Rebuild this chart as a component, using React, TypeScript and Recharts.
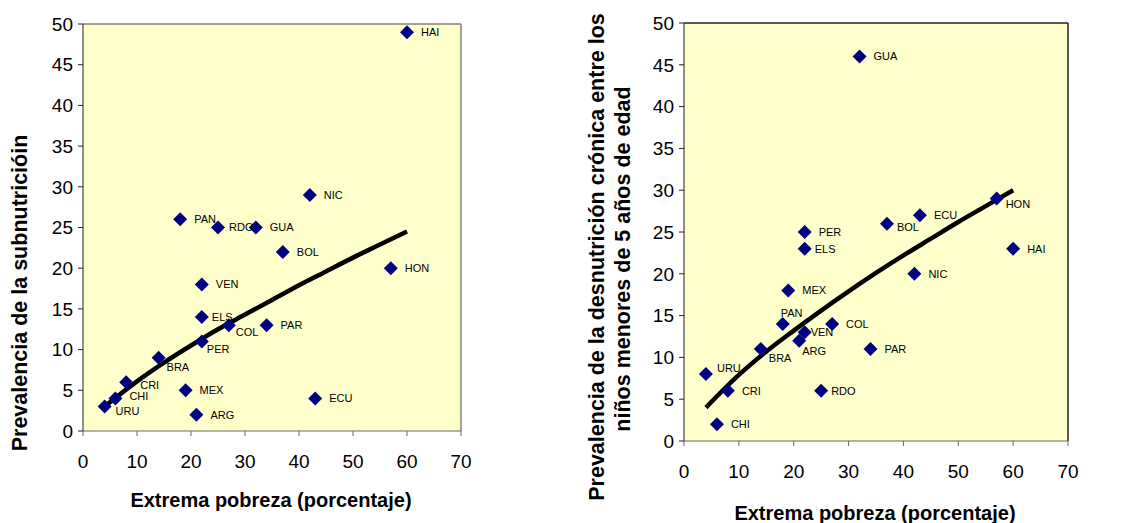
import { ScatterChart, Scatter, XAxis, YAxis, CartesianGrid, ReferenceLine, LabelList } from 'recharts'

// left chart: extreme poverty vs undernourishment
const LEFT_NAMES = ['HAI', 'NIC', 'PAN', 'RDO', 'GUA', 'BOL', 'HON', 'VEN', 'ELS', 'COL', 'PAR', 'PER', 'BRA', 'CRI', 'MEX', 'CHI', 'ECU', 'URU', 'ARG']
const LEFT_X = [60, 42, 18, 25, 32, 37, 57, 22, 22, 27, 34, 22, 14, 8, 19, 6, 43, 4, 21]
const LEFT_Y = [49, 29, 26, 25, 25, 22, 20, 18, 14, 13, 13, 11, 9, 6, 5, 4, 4, 3, 2]
const LEFT_TREND_X = [4, 10, 15, 20, 25, 30, 35, 40, 45, 50, 55, 60]
const LEFT_TREND_Y = [3, 6.1, 8.4, 10.5, 12.5, 14.3, 16.1, 17.9, 19.6, 21.3, 22.9, 24.5]

// right chart: extreme poverty vs chronic malnutrition (under 5)
const RIGHT_NAMES = ['GUA', 'HON', 'ECU', 'BOL', 'PER', 'ELS', 'HAI', 'NIC', 'MEX', 'PAN', 'COL', 'VEN', 'ARG', 'BRA', 'PAR', 'URU', 'CRI', 'RDO', 'CHI']
const RIGHT_X = [32, 57, 43, 37, 22, 22, 60, 42, 19, 18, 27, 22, 21, 14, 34, 4, 8, 25, 6]
const RIGHT_Y = [46, 29, 27, 26, 25, 23, 23, 20, 18, 14, 14, 13, 12, 11, 11, 8, 6, 6, 2]
const RIGHT_TREND_X = [4, 10, 15, 20, 25, 30, 35, 40, 45, 50, 55, 60]
const RIGHT_TREND_Y = [4, 7.9, 10.7, 13.2, 15.6, 17.9, 20.1, 22.2, 24.2, 26.2, 28.1, 30]

const X_TICKS = [0, 10, 20, 30, 40, 50, 60, 70]
const Y_TICKS = [0, 5, 10, 15, 20, 25, 30, 35, 40, 45, 50]

// label offsets from marker centre, default is to the right
const LEFT_LABEL_OFFSETS: Record<string, [number, number]> = {
  COL: [7, 7], PER: [5, 8], BRA: [8, 9], CRI: [14, 3], CHI: [14, -2], URU: [11, 5],
  RDO: [11, 0], ELS: [10, 0],
}
const RIGHT_LABEL_OFFSETS: Record<string, [number, number]> = {
  HON: [9, 6], BOL: [10, 4], ELS: [10, 0], PAN: [-2, -11], VEN: [6, 0], ARG: [3, 10],
  BRA: [8, 9], URU: [11, -6], RDO: [10, 0],
}

const FONT = 'Arial, "Liberation Sans", sans-serif'
const NAVY = '#000080'

const zip = (xs: number[], ys: number[], names?: string[]) =>
  xs.map((x, i) => ({ x, y: ys[i], name: names ? names[i] : '' }))

const Diamond = (props: any) => {
  const { cx, cy } = props
  const r = 7
  return <polygon points={`${cx},${cy - r} ${cx + r},${cy} ${cx},${cy + r} ${cx - r},${cy}`} fill={NAVY} />
}

const makeLabel = (offsets: Record<string, [number, number]>) => (props: any) => {
  const { x, y, width, height, value } = props
  const cx = x + width / 2
  const cy = y + height / 2
  const [dx, dy] = offsets[value] ?? [14, 0]
  return (
    <text x={cx + dx} y={cy + dy} dy="0.35em" fontSize={11} fill="#000" fontFamily={FONT}>
      {value}
    </text>
  )
}

const tickStyle = { fontSize: 19, fill: '#000', fontFamily: FONT }

interface PanelProps {
  points: { x: number; y: number; name: string }[]
  trend: { x: number; y: number; name: string }[]
  offsets: Record<string, [number, number]>
  margin: { top: number; right: number; bottom: number; left: number }
  yAxisWidth: number
  borderColor: string
  yTitle: React.ReactNode
  xTitle: React.ReactNode
}

function Panel({ points, trend, offsets, margin, yAxisWidth, borderColor, yTitle, xTitle }: PanelProps) {
  return (
    <ScatterChart width={560} height={523} margin={margin}>
      <CartesianGrid fill="#FFFFCC" horizontal={false} vertical={false} />
      <XAxis
        type="number"
        dataKey="x"
        domain={[0, 70]}
        ticks={X_TICKS}
        interval={0}
        tick={tickStyle}
        tickSize={5}
        tickMargin={19}
        stroke="#666"
        height={40}
        allowDataOverflow
        label={xTitle as any}
      />
      <YAxis
        type="number"
        dataKey="y"
        domain={[0, 50]}
        ticks={Y_TICKS}
        interval={0}
        tick={tickStyle}
        tickSize={5}
        tickMargin={5}
        stroke="#222"
        width={yAxisWidth}
        allowDataOverflow
        label={yTitle as any}
      />
      <ReferenceLine y={50} stroke={borderColor} strokeWidth={1.5} />
      <ReferenceLine x={70} stroke={borderColor} strokeWidth={1.5} />
      <Scatter
        data={trend}
        line={{ stroke: '#000', strokeWidth: 4.5 }}
        lineType="joint"
        lineJointType="monotoneX"
        shape={() => null}
        isAnimationActive={false}
      />
      <Scatter data={points} shape={<Diamond />} isAnimationActive={false}>
        <LabelList dataKey="name" content={makeLabel(offsets)} />
      </Scatter>
    </ScatterChart>
  )
}

const xTitleStyle = { fontSize: 20, fontWeight: 700, fill: '#000', fontFamily: FONT }
const yTitleStyle = { fontSize: 21.5, fontWeight: 700, fill: '#000', fontFamily: FONT }

export default function App() {
  return (
    <div style={{ position: 'absolute', left: 0, top: 0, width: 1123, height: 523, background: '#fff' }}>
      <div style={{ position: 'absolute', left: 0, top: 0 }}>
        <Panel
          points={zip(LEFT_X, LEFT_Y, LEFT_NAMES)}
          trend={zip(LEFT_TREND_X, LEFT_TREND_Y)}
          offsets={LEFT_LABEL_OFFSETS}
          margin={{ top: 24, right: 99, bottom: 52, left: 0 }}
          yAxisWidth={83}
          borderColor="#808080"
          yTitle={
            <g>
              <text x={27} y={293} transform="rotate(-90 27 293)" textAnchor="middle" style={yTitleStyle}>
                Prevalencia de la subnutricióin
              </text>
            </g>
          }
          xTitle={
            <g>
              <text x={271} y={507} textAnchor="middle" style={xTitleStyle}>
                Extrema pobreza (porcentaje)
              </text>
            </g>
          }
        />
      </div>
      <div style={{ position: 'absolute', left: 560, top: 0 }}>
        <Panel
          points={zip(RIGHT_X, RIGHT_Y, RIGHT_NAMES)}
          trend={zip(RIGHT_TREND_X, RIGHT_TREND_Y)}
          offsets={RIGHT_LABEL_OFFSETS}
          margin={{ top: 23, right: 52, bottom: 42, left: 0 }}
          yAxisWidth={124}
          borderColor="#222"
          yTitle={
            <g>
              <text x={44} y={257} transform="rotate(-90 44 257)" textAnchor="middle" style={yTitleStyle}>
                Prevalencia de la desnutrición crónica entre los
              </text>
              <text x={70} y={259} transform="rotate(-90 70 259)" textAnchor="middle" style={yTitleStyle}>
                niños menores de 5 años de edad
              </text>
            </g>
          }
          xTitle={
            <g>
              <text x={315} y={520} textAnchor="middle" style={xTitleStyle}>
                Extrema pobreza (porcentaje)
              </text>
            </g>
          }
        />
      </div>
    </div>
  )
}
